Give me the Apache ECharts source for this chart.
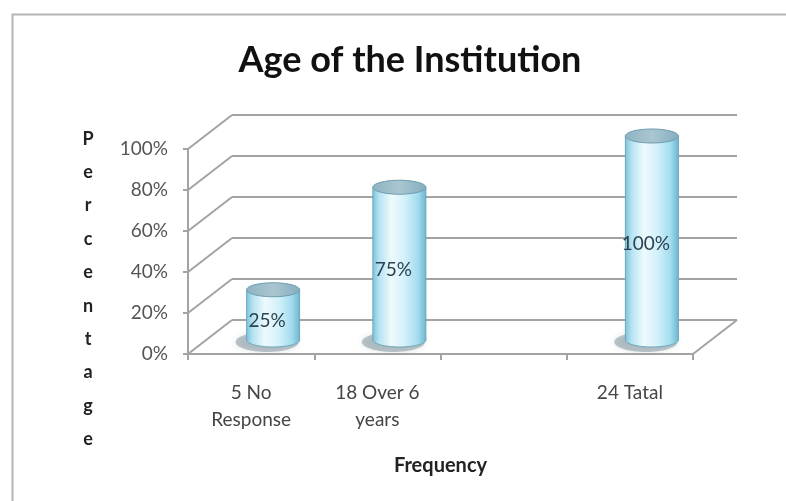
<!DOCTYPE html>
<html>
<head>
<meta charset="utf-8">
<style>html,body{margin:0;padding:0;background:#fff;}#c{width:786px;height:501px;}</style>
<script src="https://cdn.jsdelivr.net/npm/echarts@6/dist/echarts.min.js"></script>
</head>
<body>
<div id="c"></div>
<script>
// ---- data ----
const categories = ['5 No\nResponse', '18 Over 6\nyears', '', '24 Tatal'];
const values = [25, 75, null, 100];
const valueLabels = ['25%', '75%', '', '100%'];
const yTicks = [0, 20, 40, 60, 80, 100];
const titleText = 'Age of the Institution';
const yTitle = 'Percentage';
const xTitle = 'Frequency';

// ---- style constants ----
const DX = 44, DY = -34;
const GRID_COLOR = '#a3a3a3';
const FONT = 'Lato, "Open Sans", sans-serif';

const chart = echarts.init(document.getElementById('c'));

function renderDiag(params, api) {
  const cs = params.coordSys;
  const v = api.value(1);
  const y = api.coord([0, v])[1];
  const children = [{
    type: 'line',
    shape: { x1: cs.x, y1: y, x2: cs.x + DX, y2: y + DY },
    style: { stroke: GRID_COLOR, lineWidth: 2 }
  }];
  if (v === 0) {
    children.push({
      type: 'line',
      shape: { x1: cs.x + cs.width, y1: y, x2: cs.x + cs.width + DX, y2: y + DY },
      style: { stroke: GRID_COLOR, lineWidth: 2 }
    });
  }
  return { type: 'group', children };
}

function renderCyl(params, api) {
  const i = api.value(0);
  const v = api.value(1);
  if (v == null || isNaN(v)) return;
  const base = api.coord([i, 0]);
  const top = api.coord([i, v]);
  const bw = api.size([1, 0])[0] * 0.42;
  const rx = bw / 2, ry = 7;
  const cx = base[0] + DX / 2;
  const by = base[1] + DY / 2 + 3;
  const ty = top[1] + DY / 2 + 4;
  const bodyFill = {
    type: 'linear', x: 0, y: 0, x2: 1, y2: 0,
    colorStops: [
      { offset: 0, color: '#7fc3db' },
      { offset: 0.12, color: '#b6e3f2' },
      { offset: 0.35, color: '#eefafd' },
      { offset: 0.6, color: '#d3f1fa' },
      { offset: 0.85, color: '#a3dcef' },
      { offset: 1, color: '#6fb6cf' }
    ]
  };
  return {
    type: 'group',
    children: [
      { type: 'ellipse', shape: { cx: cx - 6, cy: by + 2, rx: rx + 5, ry: ry + 3 },
        style: { fill: 'rgba(90,115,125,0.38)', shadowBlur: 6, shadowColor: 'rgba(90,115,125,0.5)' } },
      { type: 'ellipse', shape: { cx: cx, cy: by, rx: rx, ry: ry },
        style: { fill: bodyFill, stroke: '#6ea7bb', lineWidth: 1 } },
      { type: 'rect', shape: { x: cx - rx, y: ty, width: bw, height: by - ty },
        style: { fill: bodyFill } },
      { type: 'line', shape: { x1: cx - rx, y1: ty, x2: cx - rx, y2: by },
        style: { stroke: '#6ea7bb', lineWidth: 1 } },
      { type: 'line', shape: { x1: cx + rx, y1: ty, x2: cx + rx, y2: by },
        style: { stroke: '#6ea7bb', lineWidth: 1 } },
      { type: 'ellipse', shape: { cx: cx, cy: ty, rx: rx, ry: ry },
        style: { fill: {
          type: 'linear', x: 0, y: 0, x2: 1, y2: 0,
          colorStops: [
            { offset: 0, color: '#8fb3c2' },
            { offset: 0.5, color: '#a9c6d1' },
            { offset: 1, color: '#86aebe' }
          ] }, stroke: '#6c9cae', lineWidth: 1 } },
      { type: 'text',
        style: { text: valueLabels[i], x: cx - 6, y: (ty + by) / 2 + 6,
          align: 'center', verticalAlign: 'middle',
          font: '19px ' + FONT, fill: '#2a4350' } }
    ]
  };
}

chart.setOption({
  animation: false,
  backgroundColor: '#fff',
  title: {
    text: titleText, left: 405, top: 37, textAlign: 'center',
    textStyle: { fontSize: 36, fontWeight: 'bold', color: '#111', fontFamily: FONT }
  },
  graphic: [
    { type: 'rect', left: 10, top: 12, shape: { width: 800, height: 520 },
      style: { fill: 'none', stroke: '#b5b5b5', lineWidth: 2 }, silent: true },
    { type: 'text', x: 88, y: 122,
      style: { text: yTitle.split('').join('\n'), lineHeight: 33.4, align: 'center',
        verticalAlign: 'top', font: 'bold 18px ' + FONT, fill: '#222' } }
  ],
  grid: [
    { left: 188, top: 149, width: 505, height: 205 },
    { left: 232, top: 115, width: 505, height: 205 }
  ],
  xAxis: [
    { type: 'category', gridIndex: 0, data: categories,
      axisLine: { lineStyle: { color: GRID_COLOR, width: 2 } },
      axisTick: { show: true, length: 6, lineStyle: { color: GRID_COLOR, width: 2 } },
      axisLabel: { color: '#454545', fontSize: 19, fontFamily: FONT, margin: 25, lineHeight: 27, interval: 0 },
      name: xTitle, nameLocation: 'middle', nameGap: 102,
      nameTextStyle: { fontSize: 20, fontWeight: 'bold', color: '#222', fontFamily: FONT }
    },
    { type: 'category', gridIndex: 1, data: categories, show: false }
  ],
  yAxis: [
    { type: 'value', gridIndex: 0, min: 0, max: 100, interval: 20,
      axisLine: { show: true, lineStyle: { color: GRID_COLOR, width: 2 } },
      axisTick: { show: true, length: 5, lineStyle: { color: GRID_COLOR, width: 2 } },
      axisLabel: { formatter: '{value}%', color: '#555', fontSize: 19, fontFamily: FONT, margin: 20 },
      splitLine: { show: false }
    },
    { type: 'value', gridIndex: 1, min: 0, max: 100, interval: 20,
      axisLine: { show: false }, axisTick: { show: false }, axisLabel: { show: false },
      splitLine: { show: true, lineStyle: { color: GRID_COLOR, width: 2 } }
    }
  ],
  series: [
    { type: 'custom', xAxisIndex: 0, yAxisIndex: 0, silent: true, z: 1,
      renderItem: renderDiag, encode: { x: 0, y: 1 },
      data: yTicks.map(t => [0, t]) },
    { type: 'custom', xAxisIndex: 0, yAxisIndex: 0, silent: true, z: 5,
      renderItem: renderCyl, encode: { x: 0, y: 1 },
      data: values.map((v, i) => [i, v]) }
  ]
});
</script>
</body>
</html>
